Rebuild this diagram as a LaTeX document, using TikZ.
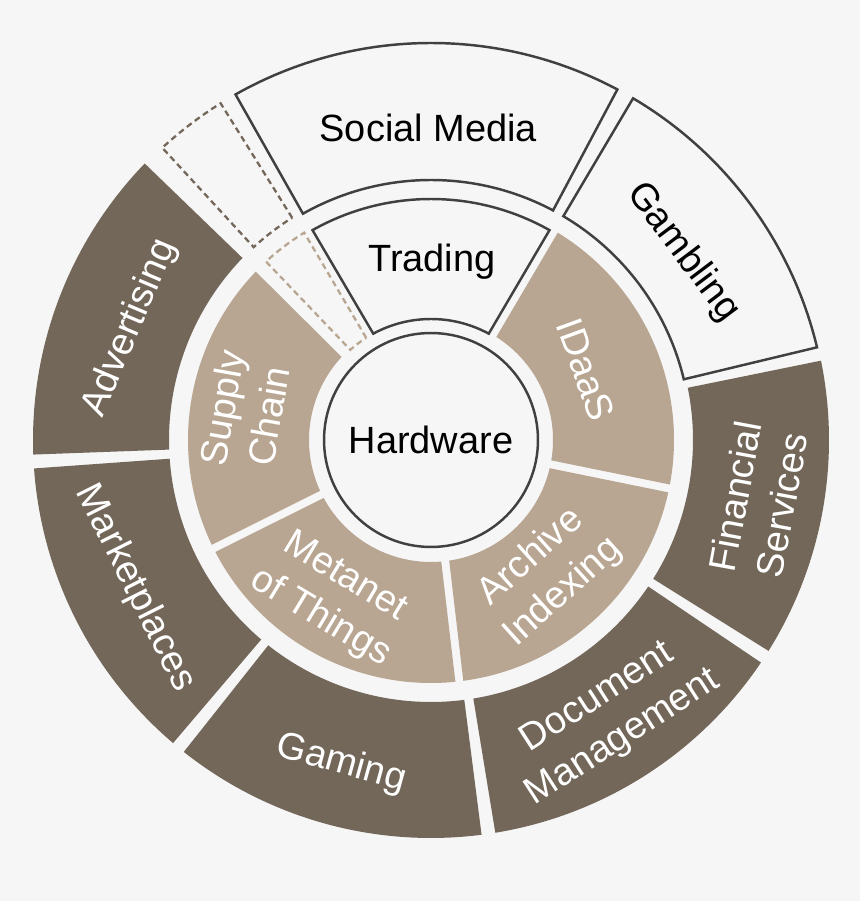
\documentclass[tikz,border=0pt]{standalone}
\usepackage{fontspec}
\setmainfont{Liberation Sans}
\usepackage{tikz}
\usetikzlibrary{calc}
\definecolor{bgcol}{HTML}{F6F6F6}
\definecolor{darkseg}{RGB}{115,103,90}
\definecolor{lightseg}{RGB}{184,166,146}
\definecolor{edgecol}{HTML}{404040}
\tikzset{
  darkfill/.style={fill=darkseg},
  lightfill/.style={fill=lightseg},
  openseg/.style={fill=bgcol, draw=edgecol, line width=1.4pt, line join=miter},
  slotdark/.style={draw=darkseg, line width=1.3pt, dash pattern=on 3.4pt off 2.3pt},
  slotlight/.style={draw=lightseg, line width=1.3pt, dash pattern=on 3.4pt off 2.3pt},
  seglabel/.style={font=\fontsize{21.6}{27}\selectfont, align=center, inner sep=0pt},
  wlabel/.style={seglabel, text=white},
  blabel/.style={seglabel, text=black}
}
% one ring piece: style, from angle, to angle, inner radius, outer radius
% the gap to its neighbours comes from \gapd (px) and \gapa (deg)
\newcommand{\ringseg}[5]{%
  \path[#1] ({#2+\gapa+asin(\gapd/#4)}:#4) -- ({#2+\gapa+asin(\gapd/#5)}:#5)
    arc[start angle={#2+\gapa+asin(\gapd/#5)}, end angle={#3-\gapa-asin(\gapd/#5)}, radius=#5]
    -- ({#3-\gapa-asin(\gapd/#4)}:#4)
    arc[start angle={#3-\gapa-asin(\gapd/#4)}, end angle={#2+\gapa+asin(\gapd/#4)}, radius=#4]
    -- cycle;}

\begin{document}
\begin{tikzpicture}[x=0.02cm, y=0.02cm, line cap=butt]
  \fill[bgcol] (-431,-461) rectangle (429,440);
  \useasboundingbox (-431,-461) rectangle (429,440);

  % outer ring
  \def\gapd{0}\def\gapa{1}
  \ringseg{darkfill}{-33}{12.5}{262}{398}
  \ringseg{openseg}{12.5}{60.4}{260}{397}
  \ringseg{openseg}{61}{120.5}{260}{397}
  \ringseg{slotdark}{121}{133.6}{262}{397}
  \ringseg{darkfill}{135}{183.1}{262}{398}
  \ringseg{darkfill}{183.1}{230.6}{262}{398}
  \ringseg{darkfill}{230.6}{278.3}{262}{398}
  \ringseg{darkfill}{278.3}{327}{262}{398}

  % middle ring
  \def\gapd{4}\def\gapa{0}
  \ringseg{lightfill}{-11.5}{59.5}{122}{243}
  \ringseg{openseg}{59.6}{120.4}{121}{241}
  \ringseg{slotlight}{120.5}{133.7}{121}{243}
  \ringseg{lightfill}{135.2}{206.5}{122}{243}
  \ringseg{lightfill}{206.5}{276.7}{122}{243}
  \ringseg{lightfill}{276.7}{348.5}{122}{243}

  % centre
  \node[circle, draw=edgecol, fill=bgcol, line width=1.4pt, minimum size=4.28cm,
    inner sep=0pt, font=\fontsize{21.6}{27}\selectfont] (hw) at (0,0) {Hardware};

  % labels
  \node[blabel] (social) at (90.5:312) {Social Media};
  \node[blabel, rotate=-53] (gambling) at (36.7:314) {Gambling};
  \node[wlabel, rotate=79.5] (finserv) at (-10.5:333) {Financial\\Services};
  \node[wlabel, rotate=32.8] (docmgmt) at (-57.2:331) {Document\\Management};
  \node[wlabel, rotate=-15.5] (gaming) at (254.5:336) {Gaming};
  \node[wlabel, rotate=-63.4] (market) at (206.6:331) {Marketplaces};
  \node[wlabel, rotate=67] (advert) at (159.6:321) {Advertising};
  \node[blabel] (trading) at (89.7:178) {Trading};
  \node[wlabel, rotate=-70] (idaas) at (24.4:170) {IDaaS};
  \node[wlabel, rotate=42] (archive) at (310.7:178) {Archive\\Indexing};
  \node[wlabel, rotate=-31] (metanet) at (238:186) {Metanet\\of Things};
  \node[wlabel, rotate=80] (supply) at (171.4:188) {Supply\\Chain};
\end{tikzpicture}
\end{document}
